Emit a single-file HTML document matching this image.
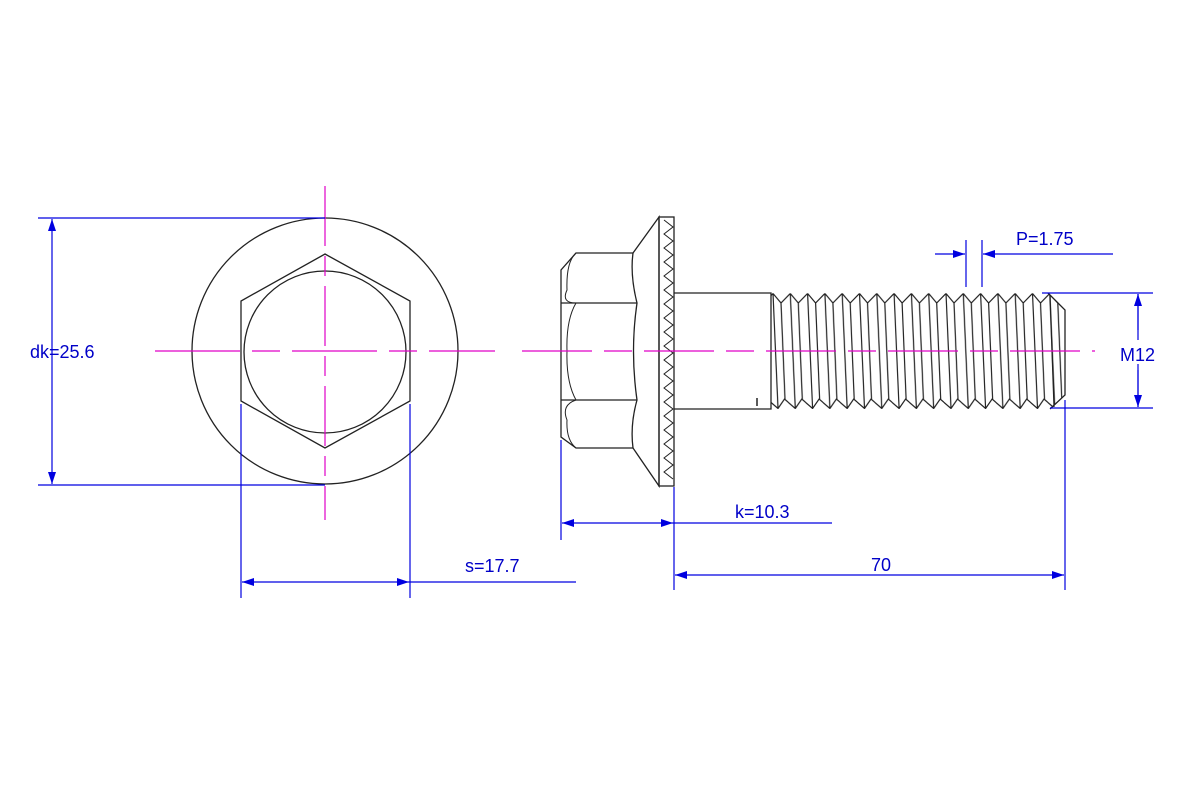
<!DOCTYPE html>
<html><head><meta charset="utf-8"><style>html,body{margin:0;padding:0;background:#fff}svg{display:block}text{font-family:"Liberation Sans",sans-serif;font-size:18px;fill:#0000c8}</style></head>
<body>
<svg width="1200" height="800" viewBox="0 0 1200 800" xmlns="http://www.w3.org/2000/svg">
<defs>
<marker id="a" viewBox="0 0 12 8" refX="12" refY="4" markerWidth="12" markerHeight="8" orient="auto-start-reverse" markerUnits="userSpaceOnUse"><path d="M0,0 L12,4 L0,8 z" fill="#0000e0"/></marker>
<pattern id="th" x="771" y="293" width="17.3" height="116" patternUnits="userSpaceOnUse">
<path d="M2,0.5 L7,115.5 M10,10 L14,106 M2,0.5 L10,10 L19.3,0.5 M-10.3,115.5 L-4,106 L7,115.5 L13.5,106 L24.3,115.5 M-15.3,0.5 L-7.3,10 L2,0.5" stroke="#222" stroke-width="1.2" fill="none"/>
</pattern>
<clipPath id="tc"><path d="M771,293 L1048,293 L1065,310 L1065,395 L1050,409 L771,409 z"/></clipPath>
</defs>
<g stroke="#222" stroke-width="1.3" fill="none">
<circle cx="325" cy="351" r="133"/>
<polygon points="325,254 410,301 410,401 325,448 241,401 241,301"/>
<circle cx="325" cy="352" r="81"/>
<path d="M576,253 L633,253 Q630,275 637,303 Q630,351 637,400 Q630,425 633,448 L576,448 L561,437 L561,270 Z"/>
<path d="M561,303 L637,303 M561,400 L637,400"/>
<path d="M576,253 Q566,262 567,290 Q561,303 576,303 M576,303 Q566,320 567,351 Q566,382 576,400 M576,400 Q561,405 567,420 Q566,440 576,448" stroke-width="1"/>
<path d="M633,253 L659,217 L659,486 L633,448"/>
<rect x="659" y="217" width="15" height="269"/>
<path d="M664,220 L673,227 L664,234 L673,241 L664,248 L673,255 L664,262 L673,269 L664,276 L673,283 L664,290 L673,297 L664,304 L673,311 L664,318 L673,325 L664,332 L673,339 L664,346 L673,353 L664,360 L673,367 L664,374 L673,381 L664,388 L673,395 L664,402 L673,409 L664,416 L673,423 L664,430 L673,437 L664,444 L673,451 L664,458 L673,465 L664,472 L673,479" stroke-width="1"/>
<path d="M674,293 L771,293 L771,409 L674,409"/>
<path d="M757,398 L757,406" stroke-width="1.5"/>
<path d="M1048,293 L1065,310 L1065,395 L1050,409" />
</g>
<rect x="771" y="292" width="294" height="118" fill="url(#th)" clip-path="url(#tc)"/>
<path d="M1050,295 L1054,407" stroke="#222" stroke-width="1.2" fill="none"/>
<g stroke="#e000c8" stroke-width="1.2" fill="none">
<path d="M325,186 L325,520" stroke-dasharray="60,10,20,10"/>
<path d="M155,351 L495,351" stroke-dasharray="85,12,28,12"/>
<path d="M522,351 L1095,351" stroke-dasharray="70,12,28,12"/>
</g>
<g stroke="#0000e0" stroke-width="1.2" fill="none">
<path d="M38,218 L325,218 M38,485 L325,485"/>
<path d="M52,219 L52,484" marker-start="url(#a)" marker-end="url(#a)"/>
<path d="M241,404 L241,598 M410,404 L410,598"/>
<path d="M242,582 L409,582" marker-start="url(#a)" marker-end="url(#a)"/>
<path d="M409,582 L576,582"/>
<path d="M561,440 L561,540 M674,487 L674,590"/>
<path d="M562,523 L673,523" marker-start="url(#a)" marker-end="url(#a)"/>
<path d="M673,523 L832,523"/>
<path d="M1065,400 L1065,590"/>
<path d="M675,575 L1064,575" marker-start="url(#a)" marker-end="url(#a)"/>
<path d="M966,240 L966,287 M982,240 L982,287"/>
<path d="M935,254 L965,254" marker-end="url(#a)"/>
<path d="M1113,254 L983,254" marker-end="url(#a)"/>
<path d="M1042,293 L1153,293 M1050,408 L1153,408"/>
<path d="M1138,294 L1138,340 M1138,364 L1138,407" />
<path d="M1138,330 L1138,294" marker-end="url(#a)"/>
<path d="M1138,370 L1138,407" marker-end="url(#a)"/>
</g>
<text x="30" y="358">dk=25.6</text>
<text x="465" y="572">s=17.7</text>
<text x="735" y="518">k=10.3</text>
<text x="871" y="571">70</text>
<text x="1016" y="245">P=1.75</text>
<text x="1120" y="361">M12</text>
</svg>
</body></html>
